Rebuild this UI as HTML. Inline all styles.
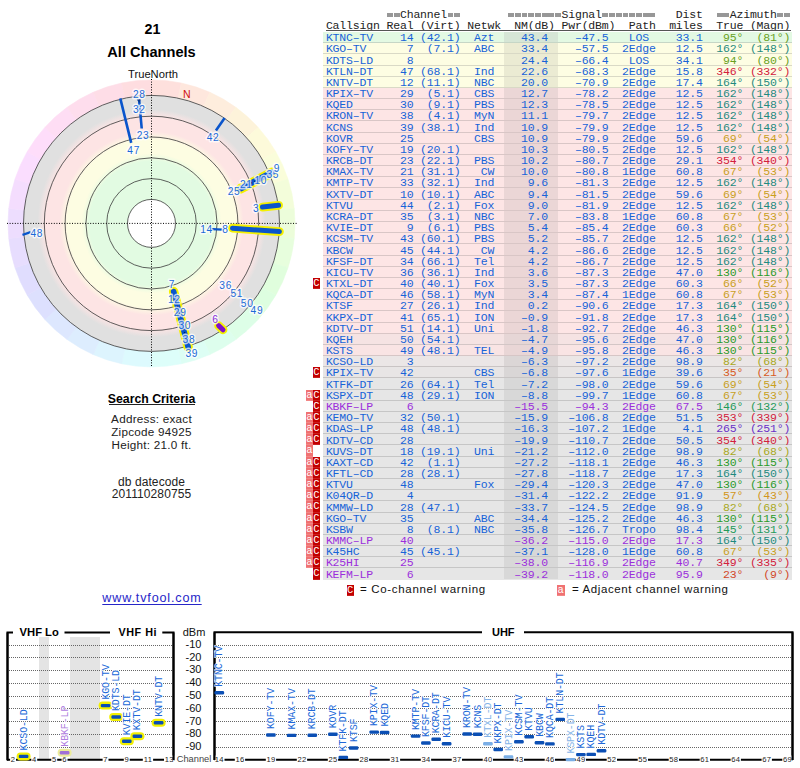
<!DOCTYPE html><html><head><meta charset="utf-8"><style>
*{margin:0;padding:0}
html,body{width:800px;height:768px;overflow:hidden;background:#fff}
body{position:relative;font-family:"Liberation Sans",sans-serif}
.t{position:absolute;white-space:pre;color:#111}
.tr{position:absolute;left:0;width:800px;height:12px;font-family:"Liberation Mono",monospace;font-size:11.5px;line-height:11.19px}
.tr i{position:absolute;top:0;font-style:normal;white-space:pre;letter-spacing:-0.17px}
.eq{position:absolute;top:13.2px;width:5.9px;height:3.7px;background:linear-gradient(#979797 0,#979797 38%,#c2c2c2 38%,#c2c2c2 62%,#979797 62%)}
.rb{position:absolute;left:323.3px;width:468.7px;height:10.19px;border-bottom:1px solid #ccc}
.nb{position:absolute;left:504px;width:54px;height:10.19px}
.wc,.wa{position:absolute;height:11.19px;width:7px;font-family:"Liberation Mono",monospace;font-size:10.5px;line-height:11.6px;text-align:center;color:#fff}
.wc{left:313px;background:#c20000;box-shadow:inset 0 -1px 0 rgba(255,255,255,0.12)}
.wa{left:306px;width:6.8px;background:#f07272;box-shadow:inset 0 -1px 0 rgba(255,255,255,0.15)}
</style></head><body><svg style="position:absolute;left:0;top:0" width="800" height="768" viewBox="0 0 800 768" font-family="Liberation Sans, sans-serif"><rect x="39" y="637" width="10" height="123" fill="#e4e4e4"/><rect x="70" y="637" width="30" height="123" fill="#e4e4e4"/><line x1="9" y1="645.5" x2="172" y2="645.5" stroke="#666" stroke-width="1" stroke-dasharray="1,1"/><line x1="216" y1="645.5" x2="791" y2="645.5" stroke="#666" stroke-width="1" stroke-dasharray="1,1"/><text x="201.5" y="647.8" text-anchor="end" font-size="11" fill="#111">-10</text><line x1="9" y1="657.5" x2="172" y2="657.5" stroke="#666" stroke-width="1" stroke-dasharray="1,1"/><line x1="216" y1="657.5" x2="791" y2="657.5" stroke="#666" stroke-width="1" stroke-dasharray="1,1"/><text x="201.5" y="660.6" text-anchor="end" font-size="11" fill="#111">-20</text><line x1="9" y1="670.5" x2="172" y2="670.5" stroke="#666" stroke-width="1" stroke-dasharray="1,1"/><line x1="216" y1="670.5" x2="791" y2="670.5" stroke="#666" stroke-width="1" stroke-dasharray="1,1"/><text x="201.5" y="673.4" text-anchor="end" font-size="11" fill="#111">-30</text><line x1="9" y1="683.5" x2="172" y2="683.5" stroke="#666" stroke-width="1" stroke-dasharray="1,1"/><line x1="216" y1="683.5" x2="791" y2="683.5" stroke="#666" stroke-width="1" stroke-dasharray="1,1"/><text x="201.5" y="686.2" text-anchor="end" font-size="11" fill="#111">-40</text><line x1="9" y1="696.5" x2="172" y2="696.5" stroke="#666" stroke-width="1" stroke-dasharray="1,1"/><line x1="216" y1="696.5" x2="791" y2="696.5" stroke="#666" stroke-width="1" stroke-dasharray="1,1"/><text x="201.5" y="699.0" text-anchor="end" font-size="11" fill="#111">-50</text><line x1="9" y1="708.5" x2="172" y2="708.5" stroke="#666" stroke-width="1" stroke-dasharray="1,1"/><line x1="216" y1="708.5" x2="791" y2="708.5" stroke="#666" stroke-width="1" stroke-dasharray="1,1"/><text x="201.5" y="711.8" text-anchor="end" font-size="11" fill="#111">-60</text><line x1="9" y1="721.5" x2="172" y2="721.5" stroke="#666" stroke-width="1" stroke-dasharray="1,1"/><line x1="216" y1="721.5" x2="791" y2="721.5" stroke="#666" stroke-width="1" stroke-dasharray="1,1"/><text x="201.5" y="724.6" text-anchor="end" font-size="11" fill="#111">-70</text><line x1="9" y1="734.5" x2="172" y2="734.5" stroke="#666" stroke-width="1" stroke-dasharray="1,1"/><line x1="216" y1="734.5" x2="791" y2="734.5" stroke="#666" stroke-width="1" stroke-dasharray="1,1"/><text x="201.5" y="737.4" text-anchor="end" font-size="11" fill="#111">-80</text><line x1="9" y1="747.5" x2="172" y2="747.5" stroke="#666" stroke-width="1" stroke-dasharray="1,1"/><line x1="216" y1="747.5" x2="791" y2="747.5" stroke="#666" stroke-width="1" stroke-dasharray="1,1"/><text x="201.5" y="750.2" text-anchor="end" font-size="11" fill="#111">-90</text><text x="194" y="636" text-anchor="middle" font-size="11" fill="#111">dBm</text><path d="M13,632.5 L7.5,632.5 L7.5,760.5" fill="none" stroke="#000" stroke-width="2"/><path d="M64.5,632.5 L110,632.5" fill="none" stroke="#000" stroke-width="2"/><path d="M162.3,632.5 L173.5,632.5 L173.5,760.5" fill="none" stroke="#000" stroke-width="2"/><text x="39.2" y="636" text-anchor="middle" font-size="11.2" font-weight="bold" fill="#000">VHF Lo</text><text x="137.8" y="636" text-anchor="middle" font-size="10.8" font-weight="bold" fill="#000" letter-spacing="0.5">VHF Hi</text><path d="M482,632.3 L214.5,632.3 L214.5,760" fill="none" stroke="#000" stroke-width="2"/><path d="M524,632.3 L792.5,632.3 L792.5,760" fill="none" stroke="#000" stroke-width="2"/><text x="503.3" y="636.2" text-anchor="middle" font-size="11" font-weight="bold" fill="#000">UHF</text><line x1="7" y1="759.8" x2="174" y2="759.8" stroke="#000" stroke-width="2"/><line x1="214" y1="759.8" x2="793" y2="759.8" stroke="#000" stroke-width="2"/><rect x="10.1" y="755.5" width="5.9" height="9" fill="#fff"/><text x="13.1" y="762" text-anchor="middle" font-size="7.6" letter-spacing="0.3" fill="#222">2</text><rect x="31.3" y="755.5" width="5.9" height="9" fill="#fff"/><text x="34.3" y="762" text-anchor="middle" font-size="7.6" letter-spacing="0.3" fill="#222">4</text><rect x="51.3" y="755.5" width="5.9" height="9" fill="#fff"/><text x="54.3" y="762" text-anchor="middle" font-size="7.6" letter-spacing="0.3" fill="#222">5</text><rect x="61.6" y="755.5" width="5.9" height="9" fill="#fff"/><text x="64.6" y="762" text-anchor="middle" font-size="7.6" letter-spacing="0.3" fill="#222">6</text><rect x="102.6" y="755.5" width="5.9" height="9" fill="#fff"/><text x="105.6" y="762" text-anchor="middle" font-size="7.6" letter-spacing="0.3" fill="#222">7</text><rect x="123.8" y="755.5" width="5.9" height="9" fill="#fff"/><text x="126.8" y="762" text-anchor="middle" font-size="7.6" letter-spacing="0.3" fill="#222">9</text><rect x="142.8" y="755.5" width="10.3" height="9" fill="#fff"/><text x="148.0" y="762" text-anchor="middle" font-size="7.6" letter-spacing="0.3" fill="#222">11</text><rect x="164.0" y="755.5" width="10.3" height="9" fill="#fff"/><text x="169.2" y="762" text-anchor="middle" font-size="7.6" letter-spacing="0.3" fill="#222">13</text><rect x="214.2" y="755.5" width="10.3" height="9" fill="#fff"/><text x="219.3" y="762" text-anchor="middle" font-size="7.6" letter-spacing="0.3" fill="#222">14</text><rect x="234.8" y="755.5" width="10.3" height="9" fill="#fff"/><text x="240.0" y="762" text-anchor="middle" font-size="7.6" letter-spacing="0.3" fill="#222">16</text><rect x="265.8" y="755.5" width="10.3" height="9" fill="#fff"/><text x="270.9" y="762" text-anchor="middle" font-size="7.6" letter-spacing="0.3" fill="#222">19</text><rect x="296.8" y="755.5" width="10.3" height="9" fill="#fff"/><text x="301.9" y="762" text-anchor="middle" font-size="7.6" letter-spacing="0.3" fill="#222">22</text><rect x="327.8" y="755.5" width="10.3" height="9" fill="#fff"/><text x="332.9" y="762" text-anchor="middle" font-size="7.6" letter-spacing="0.3" fill="#222">25</text><rect x="358.8" y="755.5" width="10.3" height="9" fill="#fff"/><text x="363.9" y="762" text-anchor="middle" font-size="7.6" letter-spacing="0.3" fill="#222">28</text><rect x="389.8" y="755.5" width="10.3" height="9" fill="#fff"/><text x="394.9" y="762" text-anchor="middle" font-size="7.6" letter-spacing="0.3" fill="#222">31</text><rect x="420.8" y="755.5" width="10.3" height="9" fill="#fff"/><text x="425.9" y="762" text-anchor="middle" font-size="7.6" letter-spacing="0.3" fill="#222">34</text><rect x="451.7" y="755.5" width="10.3" height="9" fill="#fff"/><text x="456.9" y="762" text-anchor="middle" font-size="7.6" letter-spacing="0.3" fill="#222">37</text><rect x="482.7" y="755.5" width="10.3" height="9" fill="#fff"/><text x="487.9" y="762" text-anchor="middle" font-size="7.6" letter-spacing="0.3" fill="#222">40</text><rect x="513.7" y="755.5" width="10.3" height="9" fill="#fff"/><text x="518.9" y="762" text-anchor="middle" font-size="7.6" letter-spacing="0.3" fill="#222">43</text><rect x="544.7" y="755.5" width="10.3" height="9" fill="#fff"/><text x="549.9" y="762" text-anchor="middle" font-size="7.6" letter-spacing="0.3" fill="#222">46</text><rect x="575.7" y="755.5" width="10.3" height="9" fill="#fff"/><text x="580.9" y="762" text-anchor="middle" font-size="7.6" letter-spacing="0.3" fill="#222">49</text><rect x="606.7" y="755.5" width="10.3" height="9" fill="#fff"/><text x="611.8" y="762" text-anchor="middle" font-size="7.6" letter-spacing="0.3" fill="#222">52</text><rect x="637.7" y="755.5" width="10.3" height="9" fill="#fff"/><text x="642.8" y="762" text-anchor="middle" font-size="7.6" letter-spacing="0.3" fill="#222">55</text><rect x="668.7" y="755.5" width="10.3" height="9" fill="#fff"/><text x="673.8" y="762" text-anchor="middle" font-size="7.6" letter-spacing="0.3" fill="#222">58</text><rect x="699.7" y="755.5" width="10.3" height="9" fill="#fff"/><text x="704.8" y="762" text-anchor="middle" font-size="7.6" letter-spacing="0.3" fill="#222">61</text><rect x="730.6" y="755.5" width="10.3" height="9" fill="#fff"/><text x="735.8" y="762" text-anchor="middle" font-size="7.6" letter-spacing="0.3" fill="#222">64</text><rect x="761.6" y="755.5" width="10.3" height="9" fill="#fff"/><text x="766.8" y="762" text-anchor="middle" font-size="7.6" letter-spacing="0.3" fill="#222">67</text><rect x="782.3" y="755.5" width="10.3" height="9" fill="#fff"/><text x="787.5" y="762" text-anchor="middle" font-size="7.6" letter-spacing="0.3" fill="#222">69</text><text x="194" y="761.5" text-anchor="middle" font-size="9.3" fill="#444">Channel</text><path d="M7.5,632.5 L7.5,760" fill="none" stroke="#000" stroke-width="2"/><path d="M173.5,632.5 L173.5,760" fill="none" stroke="#000" stroke-width="2"/><path d="M214.5,632.3 L214.5,760" fill="none" stroke="#000" stroke-width="2"/><path d="M792.5,632.3 L792.5,760" fill="none" stroke="#000" stroke-width="2"/><rect x="16.6" y="752.4" width="14" height="8" rx="4" fill="#f2f000"/><rect x="18.8" y="754.7" width="9.6" height="3.4" rx="1.2" fill="#0b4fb4"/><text transform="translate(26.6,750.4) rotate(-90)" font-family="Liberation Mono, monospace" font-size="10" letter-spacing="-0.15" fill="#2068d8" stroke="rgba(255,255,255,0.85)" stroke-width="1.6" style="paint-order:stroke">KCSO-LD</text><rect x="98.6" y="701.6" width="14" height="8" rx="4" fill="#f2f000"/><rect x="100.8" y="703.9" width="9.6" height="3.4" rx="1.2" fill="#0b4fb4"/><text transform="translate(108.6,699.6) rotate(-90)" font-family="Liberation Mono, monospace" font-size="10" letter-spacing="-0.15" fill="#2068d8" stroke="rgba(255,255,255,0.85)" stroke-width="1.6" style="paint-order:stroke">KGO-TV</text><rect x="109.2" y="713.0" width="14" height="8" rx="4" fill="#f2f000"/><rect x="111.4" y="715.3" width="9.6" height="3.4" rx="1.2" fill="#0b4fb4"/><text transform="translate(119.2,711.0) rotate(-90)" font-family="Liberation Mono, monospace" font-size="10" letter-spacing="-0.15" fill="#2068d8" stroke="rgba(255,255,255,0.85)" stroke-width="1.6" style="paint-order:stroke">KDTS-LD</text><rect x="119.8" y="737.3" width="14" height="8" rx="4" fill="#f2f000"/><rect x="122.0" y="739.6" width="9.6" height="3.4" rx="1.2" fill="#0b4fb4"/><text transform="translate(129.8,735.3) rotate(-90)" font-family="Liberation Mono, monospace" font-size="10" letter-spacing="-0.15" fill="#2068d8" stroke="rgba(255,255,255,0.85)" stroke-width="1.6" style="paint-order:stroke">KVIE-DT</text><rect x="130.4" y="732.3" width="14" height="8" rx="4" fill="#f2f000"/><rect x="132.6" y="734.6" width="9.6" height="3.4" rx="1.2" fill="#0b4fb4"/><text transform="translate(140.4,730.3) rotate(-90)" font-family="Liberation Mono, monospace" font-size="10" letter-spacing="-0.15" fill="#2068d8" stroke="rgba(255,255,255,0.85)" stroke-width="1.6" style="paint-order:stroke">KXTV-DT</text><rect x="151.6" y="718.8" width="14" height="8" rx="4" fill="#f2f000"/><rect x="153.8" y="721.1" width="9.6" height="3.4" rx="1.2" fill="#0b4fb4"/><text transform="translate(161.6,716.8) rotate(-90)" font-family="Liberation Mono, monospace" font-size="10" letter-spacing="-0.15" fill="#2068d8" stroke="rgba(255,255,255,0.85)" stroke-width="1.6" style="paint-order:stroke">KNTV-DT</text><rect x="57.6" y="748.7" width="14" height="8" rx="4" fill="#ecec9a"/><rect x="59.8" y="751.0" width="9.6" height="3.4" rx="1.2" fill="#a070d8"/><text transform="translate(67.6,746.7) rotate(-90)" font-family="Liberation Mono, monospace" font-size="10" letter-spacing="-0.15" fill="#b080e0" stroke="rgba(255,255,255,0.85)" stroke-width="1.6" style="paint-order:stroke">KBKF-LP</text><rect x="214.5" y="691.1" width="9.6" height="3.4" rx="1.2" fill="#0b4fb4"/><text transform="translate(222.3,686.8) rotate(-90)" font-family="Liberation Mono, monospace" font-size="10" letter-spacing="-0.15" fill="#2068d8" stroke="rgba(255,255,255,0.85)" stroke-width="1.6" style="paint-order:stroke">KTNC-TV</text><rect x="266.1" y="733.3" width="9.6" height="3.4" rx="1.2" fill="#0b4fb4"/><text transform="translate(273.9,729.0) rotate(-90)" font-family="Liberation Mono, monospace" font-size="10" letter-spacing="-0.15" fill="#2068d8" stroke="rgba(255,255,255,0.85)" stroke-width="1.6" style="paint-order:stroke">KOFY-TV</text><rect x="286.8" y="733.7" width="9.6" height="3.4" rx="1.2" fill="#0b4fb4"/><text transform="translate(294.6,729.4) rotate(-90)" font-family="Liberation Mono, monospace" font-size="10" letter-spacing="-0.15" fill="#2068d8" stroke="rgba(255,255,255,0.85)" stroke-width="1.6" style="paint-order:stroke">KMAX-TV</text><rect x="307.5" y="733.6" width="9.6" height="3.4" rx="1.2" fill="#0b4fb4"/><text transform="translate(315.3,729.3) rotate(-90)" font-family="Liberation Mono, monospace" font-size="10" letter-spacing="-0.15" fill="#2068d8" stroke="rgba(255,255,255,0.85)" stroke-width="1.6" style="paint-order:stroke">KRCB-DT</text><rect x="328.1" y="732.6" width="9.6" height="3.4" rx="1.2" fill="#0b4fb4"/><text transform="translate(335.9,728.3) rotate(-90)" font-family="Liberation Mono, monospace" font-size="10" letter-spacing="-0.15" fill="#2068d8" stroke="rgba(255,255,255,0.85)" stroke-width="1.6" style="paint-order:stroke">KOVR</text><rect x="338.5" y="755.7" width="9.6" height="3.4" rx="1.2" fill="#0b4fb4"/><text transform="translate(346.3,751.4) rotate(-90)" font-family="Liberation Mono, monospace" font-size="10" letter-spacing="-0.15" fill="#2068d8" stroke="rgba(255,255,255,0.85)" stroke-width="1.6" style="paint-order:stroke">KTFK-DT</text><rect x="348.8" y="746.3" width="9.6" height="3.4" rx="1.2" fill="#0b4fb4"/><text transform="translate(356.6,742.0) rotate(-90)" font-family="Liberation Mono, monospace" font-size="10" letter-spacing="-0.15" fill="#2068d8" stroke="rgba(255,255,255,0.85)" stroke-width="1.6" style="paint-order:stroke">KTSF</text><rect x="369.4" y="730.4" width="9.6" height="3.4" rx="1.2" fill="#0b4fb4"/><text transform="translate(377.2,726.1) rotate(-90)" font-family="Liberation Mono, monospace" font-size="10" letter-spacing="-0.15" fill="#2068d8" stroke="rgba(255,255,255,0.85)" stroke-width="1.6" style="paint-order:stroke">KPIX-TV</text><rect x="379.8" y="730.8" width="9.6" height="3.4" rx="1.2" fill="#0b4fb4"/><text transform="translate(387.6,726.5) rotate(-90)" font-family="Liberation Mono, monospace" font-size="10" letter-spacing="-0.15" fill="#2068d8" stroke="rgba(255,255,255,0.85)" stroke-width="1.6" style="paint-order:stroke">KQED</text><rect x="410.8" y="734.4" width="9.6" height="3.4" rx="1.2" fill="#0b4fb4"/><text transform="translate(418.6,730.1) rotate(-90)" font-family="Liberation Mono, monospace" font-size="10" letter-spacing="-0.15" fill="#2068d8" stroke="rgba(255,255,255,0.85)" stroke-width="1.6" style="paint-order:stroke">KMTP-TV</text><rect x="421.1" y="741.3" width="9.6" height="3.4" rx="1.2" fill="#0b4fb4"/><text transform="translate(428.9,737.0) rotate(-90)" font-family="Liberation Mono, monospace" font-size="10" letter-spacing="-0.15" fill="#2068d8" stroke="rgba(255,255,255,0.85)" stroke-width="1.6" style="paint-order:stroke">KFSF-DT</text><rect x="431.4" y="737.6" width="9.6" height="3.4" rx="1.2" fill="#0b4fb4"/><text transform="translate(439.2,733.3) rotate(-90)" font-family="Liberation Mono, monospace" font-size="10" letter-spacing="-0.15" fill="#2068d8" stroke="rgba(255,255,255,0.85)" stroke-width="1.6" style="paint-order:stroke">KCRA-DT</text><rect x="441.8" y="742.0" width="9.6" height="3.4" rx="1.2" fill="#0b4fb4"/><text transform="translate(449.6,737.7) rotate(-90)" font-family="Liberation Mono, monospace" font-size="10" letter-spacing="-0.15" fill="#2068d8" stroke="rgba(255,255,255,0.85)" stroke-width="1.6" style="paint-order:stroke">KICU-TV</text><rect x="462.4" y="732.3" width="9.6" height="3.4" rx="1.2" fill="#0b4fb4"/><text transform="translate(470.2,728.0) rotate(-90)" font-family="Liberation Mono, monospace" font-size="10" letter-spacing="-0.15" fill="#2068d8" stroke="rgba(255,255,255,0.85)" stroke-width="1.6" style="paint-order:stroke">KRON-TV</text><rect x="472.8" y="732.6" width="9.6" height="3.4" rx="1.2" fill="#0b4fb4"/><text transform="translate(480.6,728.3) rotate(-90)" font-family="Liberation Mono, monospace" font-size="10" letter-spacing="-0.15" fill="#2068d8" stroke="rgba(255,255,255,0.85)" stroke-width="1.6" style="paint-order:stroke">KCNS</text><rect x="493.4" y="747.8" width="9.6" height="3.4" rx="1.2" fill="#0b4fb4"/><text transform="translate(501.2,743.5) rotate(-90)" font-family="Liberation Mono, monospace" font-size="10" letter-spacing="-0.15" fill="#2068d8" stroke="rgba(255,255,255,0.85)" stroke-width="1.6" style="paint-order:stroke">KKPX-DT</text><rect x="514.1" y="740.0" width="9.6" height="3.4" rx="1.2" fill="#0b4fb4"/><text transform="translate(521.9,735.7) rotate(-90)" font-family="Liberation Mono, monospace" font-size="10" letter-spacing="-0.15" fill="#2068d8" stroke="rgba(255,255,255,0.85)" stroke-width="1.6" style="paint-order:stroke">KCSM-TV</text><rect x="524.4" y="735.1" width="9.6" height="3.4" rx="1.2" fill="#0b4fb4"/><text transform="translate(532.2,730.8) rotate(-90)" font-family="Liberation Mono, monospace" font-size="10" letter-spacing="-0.15" fill="#2068d8" stroke="rgba(255,255,255,0.85)" stroke-width="1.6" style="paint-order:stroke">KTVU</text><rect x="534.7" y="741.1" width="9.6" height="3.4" rx="1.2" fill="#0b4fb4"/><text transform="translate(542.5,736.8) rotate(-90)" font-family="Liberation Mono, monospace" font-size="10" letter-spacing="-0.15" fill="#2068d8" stroke="rgba(255,255,255,0.85)" stroke-width="1.6" style="paint-order:stroke">KBCW</text><rect x="545.1" y="742.2" width="9.6" height="3.4" rx="1.2" fill="#0b4fb4"/><text transform="translate(552.9,737.9) rotate(-90)" font-family="Liberation Mono, monospace" font-size="10" letter-spacing="-0.15" fill="#2068d8" stroke="rgba(255,255,255,0.85)" stroke-width="1.6" style="paint-order:stroke">KQCA-DT</text><rect x="555.4" y="717.7" width="9.6" height="3.4" rx="1.2" fill="#0b4fb4"/><text transform="translate(563.2,713.4) rotate(-90)" font-family="Liberation Mono, monospace" font-size="10" letter-spacing="-0.15" fill="#2068d8" stroke="rgba(255,255,255,0.85)" stroke-width="1.6" style="paint-order:stroke">KTLN-DT</text><rect x="576.1" y="752.9" width="9.6" height="3.4" rx="1.2" fill="#0b4fb4"/><text transform="translate(583.9,748.6) rotate(-90)" font-family="Liberation Mono, monospace" font-size="10" letter-spacing="-0.15" fill="#2068d8" stroke="rgba(255,255,255,0.85)" stroke-width="1.6" style="paint-order:stroke">KSTS</text><rect x="586.4" y="752.7" width="9.6" height="3.4" rx="1.2" fill="#0b4fb4"/><text transform="translate(594.2,748.4) rotate(-90)" font-family="Liberation Mono, monospace" font-size="10" letter-spacing="-0.15" fill="#2068d8" stroke="rgba(255,255,255,0.85)" stroke-width="1.6" style="paint-order:stroke">KQEH</text><rect x="596.7" y="749.0" width="9.6" height="3.4" rx="1.2" fill="#0b4fb4"/><text transform="translate(604.5,744.7) rotate(-90)" font-family="Liberation Mono, monospace" font-size="10" letter-spacing="-0.15" fill="#2068d8" stroke="rgba(255,255,255,0.85)" stroke-width="1.6" style="paint-order:stroke">KDTV-DT</text><rect x="483.1" y="742.0" width="9.6" height="3.4" rx="1.2" fill="#7aaee6"/><text transform="translate(490.9,737.7) rotate(-90)" font-family="Liberation Mono, monospace" font-size="10" letter-spacing="-0.15" fill="#86b4e8" stroke="rgba(255,255,255,0.85)" stroke-width="1.6" style="paint-order:stroke">KTXL-DT</text><rect x="503.7" y="755.2" width="9.6" height="3.4" rx="1.2" fill="#7aaee6"/><text transform="translate(511.5,750.9) rotate(-90)" font-family="Liberation Mono, monospace" font-size="10" letter-spacing="-0.15" fill="#86b4e8" stroke="rgba(255,255,255,0.85)" stroke-width="1.6" style="paint-order:stroke">KPIX-TV</text><rect x="565.7" y="757.9" width="9.6" height="3.4" rx="1.2" fill="#7aaee6"/><text transform="translate(573.5,753.6) rotate(-90)" font-family="Liberation Mono, monospace" font-size="10" letter-spacing="-0.15" fill="#86b4e8" stroke="rgba(255,255,255,0.85)" stroke-width="1.6" style="paint-order:stroke">KSPX-DT</text></svg><svg style="position:absolute;left:0;top:0" width="300" height="380" viewBox="0 0 300 380"><defs><radialGradient id="zg" cx="151.50" cy="223.40" r="128" gradientUnits="userSpaceOnUse"><stop offset="0.0000" stop-color="#e2fbe2"/><stop offset="0.4844" stop-color="#e2fbe2"/><stop offset="0.5469" stop-color="#fdfde2"/><stop offset="0.6562" stop-color="#fdfde2"/><stop offset="0.7188" stop-color="#fde4e4"/><stop offset="0.8281" stop-color="#fde4e4"/><stop offset="0.8906" stop-color="#e0e0e0"/><stop offset="1.0000" stop-color="#e0e0e0"/></radialGradient></defs><path d="M151.50,95.40 A128,128 0 0,1 178.11,98.20 L181.34,83.04 A143.5,143.5 0 0,0 151.50,79.90 Z" fill="hsl(6,92%,93%)" stroke="hsl(6,92%,93%)" stroke-width="0.6"/><path d="M178.11,98.20 A128,128 0 0,1 203.56,106.47 L209.87,92.31 A143.5,143.5 0 0,0 181.34,83.04 Z" fill="hsl(18,92%,93%)" stroke="hsl(18,92%,93%)" stroke-width="0.6"/><path d="M203.56,106.47 A128,128 0 0,1 226.74,119.85 L235.85,107.31 A143.5,143.5 0 0,0 209.87,92.31 Z" fill="hsl(30,92%,93%)" stroke="hsl(30,92%,93%)" stroke-width="0.6"/><path d="M226.74,119.85 A128,128 0 0,1 246.62,137.75 L258.14,127.38 A143.5,143.5 0 0,0 235.85,107.31 Z" fill="hsl(42,92%,92.5%)" stroke="hsl(42,92%,92.5%)" stroke-width="0.6"/><path d="M246.62,137.75 A128,128 0 0,1 262.35,159.40 L275.77,151.65 A143.5,143.5 0 0,0 258.14,127.38 Z" fill="hsl(54,92%,92.5%)" stroke="hsl(54,92%,92.5%)" stroke-width="0.6"/><path d="M262.35,159.40 A128,128 0 0,1 273.24,183.85 L287.98,179.06 A143.5,143.5 0 0,0 275.77,151.65 Z" fill="hsl(66,92%,92.5%)" stroke="hsl(66,92%,92.5%)" stroke-width="0.6"/><path d="M273.24,183.85 A128,128 0 0,1 278.80,210.02 L294.21,208.40 A143.5,143.5 0 0,0 287.98,179.06 Z" fill="hsl(78,92%,92.5%)" stroke="hsl(78,92%,92.5%)" stroke-width="0.6"/><path d="M278.80,210.02 A128,128 0 0,1 278.80,236.78 L294.21,238.40 A143.5,143.5 0 0,0 294.21,208.40 Z" fill="hsl(90,92%,92.5%)" stroke="hsl(90,92%,92.5%)" stroke-width="0.6"/><path d="M278.80,236.78 A128,128 0 0,1 273.24,262.95 L287.98,267.74 A143.5,143.5 0 0,0 294.21,238.40 Z" fill="hsl(102,92%,93%)" stroke="hsl(102,92%,93%)" stroke-width="0.6"/><path d="M273.24,262.95 A128,128 0 0,1 262.35,287.40 L275.77,295.15 A143.5,143.5 0 0,0 287.98,267.74 Z" fill="hsl(114,92%,93%)" stroke="hsl(114,92%,93%)" stroke-width="0.6"/><path d="M262.35,287.40 A128,128 0 0,1 246.62,309.05 L258.14,319.42 A143.5,143.5 0 0,0 275.77,295.15 Z" fill="hsl(126,92%,93%)" stroke="hsl(126,92%,93%)" stroke-width="0.6"/><path d="M246.62,309.05 A128,128 0 0,1 226.74,326.95 L235.85,339.49 A143.5,143.5 0 0,0 258.14,319.42 Z" fill="hsl(138,92%,93%)" stroke="hsl(138,92%,93%)" stroke-width="0.6"/><path d="M226.74,326.95 A128,128 0 0,1 203.56,340.33 L209.87,354.49 A143.5,143.5 0 0,0 235.85,339.49 Z" fill="hsl(150,92%,93%)" stroke="hsl(150,92%,93%)" stroke-width="0.6"/><path d="M203.56,340.33 A128,128 0 0,1 178.11,348.60 L181.34,363.76 A143.5,143.5 0 0,0 209.87,354.49 Z" fill="hsl(162,92%,93%)" stroke="hsl(162,92%,93%)" stroke-width="0.6"/><path d="M178.11,348.60 A128,128 0 0,1 151.50,351.40 L151.50,366.90 A143.5,143.5 0 0,0 181.34,363.76 Z" fill="hsl(174,92%,93%)" stroke="hsl(174,92%,93%)" stroke-width="0.6"/><path d="M151.50,351.40 A128,128 0 0,1 124.89,348.60 L121.66,363.76 A143.5,143.5 0 0,0 151.50,366.90 Z" fill="hsl(186,92%,93%)" stroke="hsl(186,92%,93%)" stroke-width="0.6"/><path d="M124.89,348.60 A128,128 0 0,1 99.44,340.33 L93.13,354.49 A143.5,143.5 0 0,0 121.66,363.76 Z" fill="hsl(198,92%,93%)" stroke="hsl(198,92%,93%)" stroke-width="0.6"/><path d="M99.44,340.33 A128,128 0 0,1 76.26,326.95 L67.15,339.49 A143.5,143.5 0 0,0 93.13,354.49 Z" fill="hsl(210,92%,93%)" stroke="hsl(210,92%,93%)" stroke-width="0.6"/><path d="M76.26,326.95 A128,128 0 0,1 56.38,309.05 L44.86,319.42 A143.5,143.5 0 0,0 67.15,339.49 Z" fill="hsl(222,92%,93%)" stroke="hsl(222,92%,93%)" stroke-width="0.6"/><path d="M56.38,309.05 A128,128 0 0,1 40.65,287.40 L27.23,295.15 A143.5,143.5 0 0,0 44.86,319.42 Z" fill="hsl(234,92%,93%)" stroke="hsl(234,92%,93%)" stroke-width="0.6"/><path d="M40.65,287.40 A128,128 0 0,1 29.76,262.95 L15.02,267.74 A143.5,143.5 0 0,0 27.23,295.15 Z" fill="hsl(246,92%,93%)" stroke="hsl(246,92%,93%)" stroke-width="0.6"/><path d="M29.76,262.95 A128,128 0 0,1 24.20,236.78 L8.79,238.40 A143.5,143.5 0 0,0 15.02,267.74 Z" fill="hsl(258,92%,93%)" stroke="hsl(258,92%,93%)" stroke-width="0.6"/><path d="M24.20,236.78 A128,128 0 0,1 24.20,210.02 L8.79,208.40 A143.5,143.5 0 0,0 8.79,238.40 Z" fill="hsl(270,92%,93%)" stroke="hsl(270,92%,93%)" stroke-width="0.6"/><path d="M24.20,210.02 A128,128 0 0,1 29.76,183.85 L15.02,179.06 A143.5,143.5 0 0,0 8.79,208.40 Z" fill="hsl(282,92%,93%)" stroke="hsl(282,92%,93%)" stroke-width="0.6"/><path d="M29.76,183.85 A128,128 0 0,1 40.65,159.40 L27.23,151.65 A143.5,143.5 0 0,0 15.02,179.06 Z" fill="hsl(294,92%,93%)" stroke="hsl(294,92%,93%)" stroke-width="0.6"/><path d="M40.65,159.40 A128,128 0 0,1 56.38,137.75 L44.86,127.38 A143.5,143.5 0 0,0 27.23,151.65 Z" fill="hsl(306,92%,93%)" stroke="hsl(306,92%,93%)" stroke-width="0.6"/><path d="M56.38,137.75 A128,128 0 0,1 76.26,119.85 L67.15,107.31 A143.5,143.5 0 0,0 44.86,127.38 Z" fill="hsl(318,92%,93%)" stroke="hsl(318,92%,93%)" stroke-width="0.6"/><path d="M76.26,119.85 A128,128 0 0,1 99.44,106.47 L93.13,92.31 A143.5,143.5 0 0,0 67.15,107.31 Z" fill="hsl(330,92%,93%)" stroke="hsl(330,92%,93%)" stroke-width="0.6"/><path d="M99.44,106.47 A128,128 0 0,1 124.89,98.20 L121.66,83.04 A143.5,143.5 0 0,0 93.13,92.31 Z" fill="hsl(342,92%,93%)" stroke="hsl(342,92%,93%)" stroke-width="0.6"/><path d="M124.89,98.20 A128,128 0 0,1 151.50,95.40 L151.50,79.90 A143.5,143.5 0 0,0 121.66,83.04 Z" fill="hsl(354,92%,93%)" stroke="hsl(354,92%,93%)" stroke-width="0.6"/><circle cx="151.5" cy="223.4" r="128" fill="url(#zg)"/><circle cx="151.5" cy="223.4" r="24" fill="#fff"/><circle cx="151.5" cy="223.4" r="24" fill="none" stroke="#383838" stroke-width="0.8"/><circle cx="151.5" cy="223.4" r="44.8" fill="none" stroke="#383838" stroke-width="0.8"/><circle cx="151.5" cy="223.4" r="65.6" fill="none" stroke="#383838" stroke-width="0.8"/><circle cx="151.5" cy="223.4" r="86.4" fill="none" stroke="#383838" stroke-width="0.8"/><circle cx="151.5" cy="223.4" r="107.2" fill="none" stroke="#383838" stroke-width="0.8"/><circle cx="151.5" cy="223.4" r="128" fill="none" stroke="#383838" stroke-width="0.8"/><line x1="7" y1="223.4" x2="297" y2="223.4" stroke="#000" stroke-width="1" stroke-dasharray="1,1.6"/><line x1="151.5" y1="79" x2="151.5" y2="367" stroke="#000" stroke-width="1" stroke-dasharray="1,1.6"/><line x1="120.6" y1="99.6" x2="130.9" y2="141.6" stroke="#0a55cc" stroke-width="2.6" stroke-linecap="square"/><line x1="139.2" y1="100.8" x2="141.6" y2="127.2" stroke="#0a55cc" stroke-width="2.6" stroke-linecap="square"/><path d="M136.6,99.2 L140.6,99.6 L139.6,103.2 Z" fill="#0a3a90"/><line x1="223.9" y1="119.0" x2="216.7" y2="129.4" stroke="#0a55cc" stroke-width="2.6" stroke-linecap="square"/><line x1="23.5" y1="234.5" x2="29.5" y2="232.5" stroke="#0a55cc" stroke-width="2.2" stroke-linecap="square"/><line x1="212.9" y1="229.2" x2="221.25" y2="229.6" stroke="#0a55cc" stroke-width="2.4" stroke-linecap="square"/><line x1="232.5" y1="228.2" x2="279.4" y2="231.6" stroke="#f4f000" stroke-width="8.8" stroke-linecap="round"/><line x1="232.5" y1="228.2" x2="279.4" y2="231.6" stroke="#0a55cc" stroke-width="5" stroke-linecap="round"/><line x1="262.5" y1="207.1" x2="278.6" y2="205.3" stroke="#f4f000" stroke-width="8.8" stroke-linecap="round"/><line x1="262.5" y1="207.1" x2="278.6" y2="205.3" stroke="#0a55cc" stroke-width="5" stroke-linecap="round"/><line x1="240.6" y1="188.6" x2="272" y2="172.4" stroke="#f4f000" stroke-width="9.8" stroke-linecap="round"/><line x1="240.6" y1="188.6" x2="272" y2="172.4" stroke="#0a55cc" stroke-width="6" stroke-linecap="round"/><line x1="173.6" y1="291.5" x2="188.2" y2="347.2" stroke="#f4f000" stroke-width="9.399999999999999" stroke-linecap="round"/><line x1="173.6" y1="291.5" x2="188.2" y2="347.2" stroke="#0a55cc" stroke-width="5.6" stroke-linecap="round"/><line x1="218.6" y1="325.6" x2="223.0" y2="329.8" stroke="#f4f000" stroke-width="8.8" stroke-linecap="round"/><line x1="218.6" y1="325.6" x2="223.0" y2="329.8" stroke="#7f12c8" stroke-width="5" stroke-linecap="round"/><line x1="174.5" y1="296" x2="188" y2="345" stroke="#001a60" stroke-width="1.4" stroke-dasharray="1.2,2.2"/><line x1="248" y1="184.5" x2="270" y2="174" stroke="#001a60" stroke-width="1.4" stroke-dasharray="1.2,2.2"/><line x1="229" y1="288" x2="252" y2="307" stroke="#223" stroke-width="0.9" stroke-dasharray="1,2"/><g font-family="Liberation Sans, sans-serif" font-size="10.2"><text x="139.35" y="98.30" fill="#1c6ad8" text-anchor="middle" letter-spacing="0.7" style="paint-order:stroke" stroke="rgba(255,255,255,0.72)" stroke-width="2.8" stroke-linejoin="round">28</text><text x="139.35" y="112.90" fill="#1c6ad8" text-anchor="middle" letter-spacing="0.7" style="paint-order:stroke" stroke="rgba(255,255,255,0.72)" stroke-width="2.8" stroke-linejoin="round">32</text><text x="143.05" y="138.90" fill="#1c6ad8" text-anchor="middle" letter-spacing="0.7" style="paint-order:stroke" stroke="rgba(255,255,255,0.72)" stroke-width="2.8" stroke-linejoin="round">23</text><text x="133.65" y="154.00" fill="#1c6ad8" text-anchor="middle" letter-spacing="0.7" style="paint-order:stroke" stroke="rgba(255,255,255,0.72)" stroke-width="2.8" stroke-linejoin="round">47</text><text x="213.05" y="140.70" fill="#1c6ad8" text-anchor="middle" letter-spacing="0.7" style="paint-order:stroke" stroke="rgba(255,255,255,0.72)" stroke-width="2.8" stroke-linejoin="round">42</text><text x="36.85" y="237.20" fill="#1c6ad8" text-anchor="middle" letter-spacing="0.7" style="paint-order:stroke" stroke="rgba(255,255,255,0.72)" stroke-width="2.8" stroke-linejoin="round">48</text><text x="206.60" y="232.60" fill="#1c6ad8" text-anchor="middle" letter-spacing="0.7" style="paint-order:stroke" stroke="rgba(255,255,255,0.72)" stroke-width="2.8" stroke-linejoin="round">14</text><text x="225.55" y="232.70" fill="#1c6ad8" text-anchor="middle" letter-spacing="0.7" style="paint-order:stroke" stroke="rgba(255,255,255,0.72)" stroke-width="2.8" stroke-linejoin="round">8</text><text x="256.25" y="211.80" fill="#1c6ad8" text-anchor="middle" letter-spacing="0.7" style="paint-order:stroke" stroke="rgba(255,255,255,0.72)" stroke-width="2.8" stroke-linejoin="round">3</text><text x="234.10" y="195.20" fill="#1c6ad8" text-anchor="middle" letter-spacing="0.7" style="paint-order:stroke" stroke="rgba(255,255,255,0.72)" stroke-width="2.8" stroke-linejoin="round">25</text><text x="246.35" y="187.70" fill="#1c6ad8" text-anchor="middle" letter-spacing="0.7" style="paint-order:stroke" stroke="rgba(255,255,255,0.72)" stroke-width="2.8" stroke-linejoin="round">21</text><text x="260.75" y="183.60" fill="#1c6ad8" text-anchor="middle" letter-spacing="0.7" style="paint-order:stroke" stroke="rgba(255,255,255,0.72)" stroke-width="2.8" stroke-linejoin="round">10</text><text x="272.85" y="177.50" fill="#1c6ad8" text-anchor="middle" letter-spacing="0.7" style="paint-order:stroke" stroke="rgba(255,255,255,0.72)" stroke-width="2.8" stroke-linejoin="round">35</text><text x="276.85" y="172.20" fill="#1c6ad8" text-anchor="middle" letter-spacing="0.7" style="paint-order:stroke" stroke="rgba(255,255,255,0.72)" stroke-width="2.8" stroke-linejoin="round">9</text><text x="171.85" y="288.30" fill="#1c6ad8" text-anchor="middle" letter-spacing="0.7" style="paint-order:stroke" stroke="rgba(255,255,255,0.72)" stroke-width="2.8" stroke-linejoin="round">7</text><text x="174.35" y="302.90" fill="#1c6ad8" text-anchor="middle" letter-spacing="0.7" style="paint-order:stroke" stroke="rgba(255,255,255,0.72)" stroke-width="2.8" stroke-linejoin="round">12</text><text x="180.15" y="315.90" fill="#1c6ad8" text-anchor="middle" letter-spacing="0.7" style="paint-order:stroke" stroke="rgba(255,255,255,0.72)" stroke-width="2.8" stroke-linejoin="round">29</text><text x="184.85" y="329.40" fill="#1c6ad8" text-anchor="middle" letter-spacing="0.7" style="paint-order:stroke" stroke="rgba(255,255,255,0.72)" stroke-width="2.8" stroke-linejoin="round">30</text><text x="188.95" y="343.00" fill="#1c6ad8" text-anchor="middle" letter-spacing="0.7" style="paint-order:stroke" stroke="rgba(255,255,255,0.72)" stroke-width="2.8" stroke-linejoin="round">38</text><text x="191.85" y="356.70" fill="#1c6ad8" text-anchor="middle" letter-spacing="0.7" style="paint-order:stroke" stroke="rgba(255,255,255,0.72)" stroke-width="2.8" stroke-linejoin="round">39</text><text x="225.65" y="288.90" fill="#1c6ad8" text-anchor="middle" letter-spacing="0.7" style="paint-order:stroke" stroke="rgba(255,255,255,0.72)" stroke-width="2.8" stroke-linejoin="round">36</text><text x="236.75" y="296.70" fill="#1c6ad8" text-anchor="middle" letter-spacing="0.7" style="paint-order:stroke" stroke="rgba(255,255,255,0.72)" stroke-width="2.8" stroke-linejoin="round">51</text><text x="247.15" y="307.10" fill="#1c6ad8" text-anchor="middle" letter-spacing="0.7" style="paint-order:stroke" stroke="rgba(255,255,255,0.72)" stroke-width="2.8" stroke-linejoin="round">50</text><text x="256.95" y="313.70" fill="#1c6ad8" text-anchor="middle" letter-spacing="0.7" style="paint-order:stroke" stroke="rgba(255,255,255,0.72)" stroke-width="2.8" stroke-linejoin="round">49</text><text x="215.35" y="322.70" fill="#8a2ad8" text-anchor="middle" letter-spacing="0.7" style="paint-order:stroke" stroke="rgba(255,255,255,0.72)" stroke-width="2.8" stroke-linejoin="round">6</text><text x="186.9" y="98.3" fill="#d01010" text-anchor="middle" font-size="10.5">N</text></g></svg><div class="t" style="left:0;width:305px;text-align:center;top:21px;font-size:14.3px;font-weight:bold;color:#000">21</div><div class="t" style="left:0;width:303px;text-align:center;top:43.5px;font-size:14.6px;font-weight:bold;color:#000">All Channels</div><div class="t" style="left:0;width:306px;text-align:center;top:67.5px;font-size:11.2px;color:#111">TrueNorth</div><div class="t" style="left:0;width:303px;text-align:center;top:391.5px;font-size:12.3px;font-weight:bold;color:#000">Search Criteria</div><div style="position:absolute;left:108.5px;top:404.2px;width:86.5px;height:1.3px;background:#222"></div><div class="t" style="left:0;width:303px;text-align:center;top:413.45px;font-size:11.7px;letter-spacing:0.25px;line-height:12.6px;color:#222">Address: exact
Zipcode 94925
Height: 21.0 ft.</div><div class="t" style="left:0;width:303px;text-align:center;top:475.6px;font-size:12px;letter-spacing:0.1px;line-height:12px;color:#222">db datecode
201110280755</div><div class="t" style="left:0;width:304px;text-align:center;top:591px;font-size:12.6px;letter-spacing:0.85px;color:#2626c8;text-decoration:underline;text-underline-offset:1.5px">www.tvfool.com</div><div class="eq" style="left:386.97px"></div><div class="eq" style="left:393.70px"></div><div class="eq" style="left:447.54px"></div><div class="eq" style="left:454.27px"></div><div class="eq" style="left:508.11px"></div><div class="eq" style="left:514.84px"></div><div class="eq" style="left:521.57px"></div><div class="eq" style="left:528.30px"></div><div class="eq" style="left:535.03px"></div><div class="eq" style="left:541.76px"></div><div class="eq" style="left:548.49px"></div><div class="eq" style="left:555.22px"></div><div class="eq" style="left:602.33px"></div><div class="eq" style="left:609.06px"></div><div class="eq" style="left:615.79px"></div><div class="eq" style="left:622.52px"></div><div class="eq" style="left:629.25px"></div><div class="eq" style="left:635.98px"></div><div class="eq" style="left:642.71px"></div><div class="eq" style="left:649.44px"></div><div class="eq" style="left:716.74px"></div><div class="eq" style="left:723.47px"></div><div class="eq" style="left:777.31px"></div><div class="eq" style="left:784.04px"></div><div class="tr" style="top:8.8px"><i style="left:399.93px;color:#222">Channel</i><i style="left:561.45px;color:#222">Signal</i><i style="left:675.86px;color:#222">Dist</i><i style="left:729.70px;color:#222">Azimuth</i></div><div class="tr" style="top:20px"><i style="left:325.90px;color:#222">Callsign</i><i style="left:386.47px;color:#222">Real</i><i style="left:420.12px;color:#222">(Virt)</i><i style="left:467.23px;color:#222">Netwk</i><i style="left:514.34px;color:#222">NM(dB)</i><i style="left:561.45px;color:#222">Pwr(dBm)</i><i style="left:628.75px;color:#222">Path</i><i style="left:669.13px;color:#222">miles</i><i style="left:716.24px;color:#222">True</i><i style="left:749.89px;color:#222">(Magn)</i></div><div style="position:absolute;left:326px;top:30px;width:465px;height:1px;background:#555"></div><div class="rb" style="top:32.00px;background:#e3f9e3;border-bottom-color:#c6d6c6"></div><div class="nb" style="top:32.00px;background:#d6e6d6"></div><div class="tr" style="top:32.20px;color:#1763d8"><i style="left:325.90px">KTNC–TV</i><i style="left:399.93px">14</i><i style="left:420.12px">(42.1)</i><i style="left:473.96px">Azt</i><i style="left:521.07px">43.4</i><i style="left:574.91px">–47.5</i><i style="left:628.75px">LOS</i><i style="left:675.86px">33.1</i><i style="left:722.97px;color:#69a01e">95°</i><i style="left:756.62px;color:#69a01e">(81°)</i></div><div class="rb" style="top:43.17px;background:#fdfde3;border-bottom-color:#d9d9c6"></div><div class="nb" style="top:43.17px;background:#ebebd3"></div><div class="tr" style="top:43.38px;color:#1763d8"><i style="left:325.90px">KGO–TV</i><i style="left:406.66px">7</i><i style="left:426.85px">(7.1)</i><i style="left:473.96px">ABC</i><i style="left:521.07px">33.4</i><i style="left:574.91px">–57.5</i><i style="left:622.02px">2Edge</i><i style="left:675.86px">12.5</i><i style="left:716.24px;color:#1f8a80">162°</i><i style="left:749.89px;color:#1f8a80">(148°)</i></div><div class="rb" style="top:54.35px;background:#fdfde3;border-bottom-color:#d9d9c6"></div><div class="nb" style="top:54.35px;background:#ebebd3"></div><div class="tr" style="top:54.55px;color:#1763d8"><i style="left:325.90px">KDTS–LD</i><i style="left:406.66px">8</i><i style="left:521.07px">24.4</i><i style="left:574.91px">–66.4</i><i style="left:628.75px">LOS</i><i style="left:675.86px">34.1</i><i style="left:722.97px;color:#69a01e">94°</i><i style="left:756.62px;color:#69a01e">(80°)</i></div><div class="rb" style="top:65.53px;background:#fdfde3;border-bottom-color:#d9d9c6"></div><div class="nb" style="top:65.53px;background:#ebebd3"></div><div class="tr" style="top:65.73px;color:#1763d8"><i style="left:325.90px">KTLN–DT</i><i style="left:399.93px">47</i><i style="left:420.12px">(68.1)</i><i style="left:473.96px">Ind</i><i style="left:521.07px">22.6</i><i style="left:574.91px">–68.3</i><i style="left:622.02px">2Edge</i><i style="left:675.86px">15.8</i><i style="left:716.24px;color:#d2203c">346°</i><i style="left:749.89px;color:#d2203c">(332°)</i></div><div class="rb" style="top:76.70px;background:#fdfde3;border-bottom-color:#d9d9c6"></div><div class="nb" style="top:76.70px;background:#ebebd3"></div><div class="tr" style="top:76.90px;color:#1763d8"><i style="left:325.90px">KNTV–DT</i><i style="left:399.93px">12</i><i style="left:420.12px">(11.1)</i><i style="left:473.96px">NBC</i><i style="left:521.07px">20.0</i><i style="left:574.91px">–70.9</i><i style="left:622.02px">2Edge</i><i style="left:675.86px">17.4</i><i style="left:716.24px;color:#1f8a80">164°</i><i style="left:749.89px;color:#1f8a80">(150°)</i></div><div class="rb" style="top:87.88px;background:#fde5e5;border-bottom-color:#d9c6c6"></div><div class="nb" style="top:87.88px;background:#ebd6d6"></div><div class="tr" style="top:88.08px;color:#1763d8"><i style="left:325.90px">KPIX–TV</i><i style="left:399.93px">29</i><i style="left:426.85px">(5.1)</i><i style="left:473.96px">CBS</i><i style="left:521.07px">12.7</i><i style="left:574.91px">–78.2</i><i style="left:622.02px">2Edge</i><i style="left:675.86px">12.5</i><i style="left:716.24px;color:#1f8a80">162°</i><i style="left:749.89px;color:#1f8a80">(148°)</i></div><div class="rb" style="top:99.05px;background:#fde5e5;border-bottom-color:#d9c6c6"></div><div class="nb" style="top:99.05px;background:#ebd6d6"></div><div class="tr" style="top:99.25px;color:#1763d8"><i style="left:325.90px">KQED</i><i style="left:399.93px">30</i><i style="left:426.85px">(9.1)</i><i style="left:473.96px">PBS</i><i style="left:521.07px">12.3</i><i style="left:574.91px">–78.5</i><i style="left:622.02px">2Edge</i><i style="left:675.86px">12.5</i><i style="left:716.24px;color:#1f8a80">162°</i><i style="left:749.89px;color:#1f8a80">(148°)</i></div><div class="rb" style="top:110.23px;background:#fde5e5;border-bottom-color:#d9c6c6"></div><div class="nb" style="top:110.23px;background:#ebd6d6"></div><div class="tr" style="top:110.43px;color:#1763d8"><i style="left:325.90px">KRON–TV</i><i style="left:399.93px">38</i><i style="left:426.85px">(4.1)</i><i style="left:473.96px">MyN</i><i style="left:521.07px">11.1</i><i style="left:574.91px">–79.7</i><i style="left:622.02px">2Edge</i><i style="left:675.86px">12.5</i><i style="left:716.24px;color:#1f8a80">162°</i><i style="left:749.89px;color:#1f8a80">(148°)</i></div><div class="rb" style="top:121.40px;background:#fde5e5;border-bottom-color:#d9c6c6"></div><div class="nb" style="top:121.40px;background:#ebd6d6"></div><div class="tr" style="top:121.60px;color:#1763d8"><i style="left:325.90px">KCNS</i><i style="left:399.93px">39</i><i style="left:420.12px">(38.1)</i><i style="left:473.96px">Ind</i><i style="left:521.07px">10.9</i><i style="left:574.91px">–79.9</i><i style="left:622.02px">2Edge</i><i style="left:675.86px">12.5</i><i style="left:716.24px;color:#1f8a80">162°</i><i style="left:749.89px;color:#1f8a80">(148°)</i></div><div class="rb" style="top:132.57px;background:#fde5e5;border-bottom-color:#d9c6c6"></div><div class="nb" style="top:132.57px;background:#ebd6d6"></div><div class="tr" style="top:132.77px;color:#1763d8"><i style="left:325.90px">KOVR</i><i style="left:399.93px">25</i><i style="left:473.96px">CBS</i><i style="left:521.07px">10.9</i><i style="left:574.91px">–79.9</i><i style="left:622.02px">2Edge</i><i style="left:675.86px">59.6</i><i style="left:722.97px;color:#c8a01e">69°</i><i style="left:756.62px;color:#c8a01e">(54°)</i></div><div class="rb" style="top:143.75px;background:#fde5e5;border-bottom-color:#d9c6c6"></div><div class="nb" style="top:143.75px;background:#ebd6d6"></div><div class="tr" style="top:143.95px;color:#1763d8"><i style="left:325.90px">KOFY–TV</i><i style="left:399.93px">19</i><i style="left:420.12px">(20.1)</i><i style="left:521.07px">10.3</i><i style="left:574.91px">–80.5</i><i style="left:622.02px">2Edge</i><i style="left:675.86px">12.5</i><i style="left:716.24px;color:#1f8a80">162°</i><i style="left:749.89px;color:#1f8a80">(148°)</i></div><div class="rb" style="top:154.93px;background:#fde5e5;border-bottom-color:#d9c6c6"></div><div class="nb" style="top:154.93px;background:#ebd6d6"></div><div class="tr" style="top:155.12px;color:#1763d8"><i style="left:325.90px">KRCB–DT</i><i style="left:399.93px">23</i><i style="left:420.12px">(22.1)</i><i style="left:473.96px">PBS</i><i style="left:521.07px">10.2</i><i style="left:574.91px">–80.7</i><i style="left:622.02px">2Edge</i><i style="left:675.86px">29.1</i><i style="left:716.24px;color:#d2203c">354°</i><i style="left:749.89px;color:#d2203c">(340°)</i></div><div class="rb" style="top:166.10px;background:#fde5e5;border-bottom-color:#d9c6c6"></div><div class="nb" style="top:166.10px;background:#ebd6d6"></div><div class="tr" style="top:166.30px;color:#1763d8"><i style="left:325.90px">KMAX–TV</i><i style="left:399.93px">21</i><i style="left:420.12px">(31.1)</i><i style="left:480.69px">CW</i><i style="left:521.07px">10.0</i><i style="left:574.91px">–80.8</i><i style="left:622.02px">1Edge</i><i style="left:675.86px">60.8</i><i style="left:722.97px;color:#c8a01e">67°</i><i style="left:756.62px;color:#c8a01e">(53°)</i></div><div class="rb" style="top:177.28px;background:#fde5e5;border-bottom-color:#d9c6c6"></div><div class="nb" style="top:177.28px;background:#ebd6d6"></div><div class="tr" style="top:177.47px;color:#1763d8"><i style="left:325.90px">KMTP–TV</i><i style="left:399.93px">33</i><i style="left:420.12px">(32.1)</i><i style="left:473.96px">Ind</i><i style="left:527.80px">9.6</i><i style="left:574.91px">–81.3</i><i style="left:622.02px">2Edge</i><i style="left:675.86px">12.5</i><i style="left:716.24px;color:#1f8a80">162°</i><i style="left:749.89px;color:#1f8a80">(148°)</i></div><div class="rb" style="top:188.45px;background:#fde5e5;border-bottom-color:#d9c6c6"></div><div class="nb" style="top:188.45px;background:#ebd6d6"></div><div class="tr" style="top:188.65px;color:#1763d8"><i style="left:325.90px">KXTV–DT</i><i style="left:399.93px">10</i><i style="left:420.12px">(10.1)</i><i style="left:473.96px">ABC</i><i style="left:527.80px">9.4</i><i style="left:574.91px">–81.5</i><i style="left:622.02px">2Edge</i><i style="left:675.86px">59.6</i><i style="left:722.97px;color:#c8a01e">69°</i><i style="left:756.62px;color:#c8a01e">(54°)</i></div><div class="rb" style="top:199.62px;background:#fde5e5;border-bottom-color:#d9c6c6"></div><div class="nb" style="top:199.62px;background:#ebd6d6"></div><div class="tr" style="top:199.82px;color:#1763d8"><i style="left:325.90px">KTVU</i><i style="left:399.93px">44</i><i style="left:426.85px">(2.1)</i><i style="left:473.96px">Fox</i><i style="left:527.80px">9.0</i><i style="left:574.91px">–81.9</i><i style="left:622.02px">2Edge</i><i style="left:675.86px">12.5</i><i style="left:716.24px;color:#1f8a80">162°</i><i style="left:749.89px;color:#1f8a80">(148°)</i></div><div class="rb" style="top:210.80px;background:#fde5e5;border-bottom-color:#d9c6c6"></div><div class="nb" style="top:210.80px;background:#ebd6d6"></div><div class="tr" style="top:211.00px;color:#1763d8"><i style="left:325.90px">KCRA–DT</i><i style="left:399.93px">35</i><i style="left:426.85px">(3.1)</i><i style="left:473.96px">NBC</i><i style="left:527.80px">7.0</i><i style="left:574.91px">–83.8</i><i style="left:622.02px">1Edge</i><i style="left:675.86px">60.8</i><i style="left:722.97px;color:#c8a01e">67°</i><i style="left:756.62px;color:#c8a01e">(53°)</i></div><div class="rb" style="top:221.98px;background:#fde5e5;border-bottom-color:#d9c6c6"></div><div class="nb" style="top:221.98px;background:#ebd6d6"></div><div class="tr" style="top:222.18px;color:#1763d8"><i style="left:325.90px">KVIE–DT</i><i style="left:406.66px">9</i><i style="left:426.85px">(6.1)</i><i style="left:473.96px">PBS</i><i style="left:527.80px">5.4</i><i style="left:574.91px">–85.4</i><i style="left:622.02px">2Edge</i><i style="left:675.86px">60.3</i><i style="left:722.97px;color:#c8a01e">66°</i><i style="left:756.62px;color:#c8a01e">(52°)</i></div><div class="rb" style="top:233.15px;background:#fde5e5;border-bottom-color:#d9c6c6"></div><div class="nb" style="top:233.15px;background:#ebd6d6"></div><div class="tr" style="top:233.35px;color:#1763d8"><i style="left:325.90px">KCSM–TV</i><i style="left:399.93px">43</i><i style="left:420.12px">(60.1)</i><i style="left:473.96px">PBS</i><i style="left:527.80px">5.2</i><i style="left:574.91px">–85.7</i><i style="left:622.02px">2Edge</i><i style="left:675.86px">12.5</i><i style="left:716.24px;color:#1f8a80">162°</i><i style="left:749.89px;color:#1f8a80">(148°)</i></div><div class="rb" style="top:244.33px;background:#fde5e5;border-bottom-color:#d9c6c6"></div><div class="nb" style="top:244.33px;background:#ebd6d6"></div><div class="tr" style="top:244.53px;color:#1763d8"><i style="left:325.90px">KBCW</i><i style="left:399.93px">45</i><i style="left:420.12px">(44.1)</i><i style="left:480.69px">CW</i><i style="left:527.80px">4.2</i><i style="left:574.91px">–86.6</i><i style="left:622.02px">2Edge</i><i style="left:675.86px">12.5</i><i style="left:716.24px;color:#1f8a80">162°</i><i style="left:749.89px;color:#1f8a80">(148°)</i></div><div class="rb" style="top:255.50px;background:#fde5e5;border-bottom-color:#d9c6c6"></div><div class="nb" style="top:255.50px;background:#ebd6d6"></div><div class="tr" style="top:255.70px;color:#1763d8"><i style="left:325.90px">KFSF–DT</i><i style="left:399.93px">34</i><i style="left:420.12px">(66.1)</i><i style="left:473.96px">Tel</i><i style="left:527.80px">4.2</i><i style="left:574.91px">–86.7</i><i style="left:622.02px">2Edge</i><i style="left:675.86px">12.5</i><i style="left:716.24px;color:#1f8a80">162°</i><i style="left:749.89px;color:#1f8a80">(148°)</i></div><div class="rb" style="top:266.68px;background:#fde5e5;border-bottom-color:#d9c6c6"></div><div class="nb" style="top:266.68px;background:#ebd6d6"></div><div class="tr" style="top:266.88px;color:#1763d8"><i style="left:325.90px">KICU–TV</i><i style="left:399.93px">36</i><i style="left:420.12px">(36.1)</i><i style="left:473.96px">Ind</i><i style="left:527.80px">3.6</i><i style="left:574.91px">–87.3</i><i style="left:622.02px">2Edge</i><i style="left:675.86px">47.0</i><i style="left:716.24px;color:#2a9a2a">130°</i><i style="left:749.89px;color:#2a9a2a">(116°)</i></div><div class="rb" style="top:277.85px;background:#fde5e5;border-bottom-color:#d9c6c6"></div><div class="nb" style="top:277.85px;background:#ebd6d6"></div><div class="tr" style="top:278.05px;color:#1763d8"><i style="left:325.90px">KTXL–DT</i><i style="left:399.93px">40</i><i style="left:420.12px">(40.1)</i><i style="left:473.96px">Fox</i><i style="left:527.80px">3.5</i><i style="left:574.91px">–87.3</i><i style="left:622.02px">2Edge</i><i style="left:675.86px">60.3</i><i style="left:722.97px;color:#c8a01e">66°</i><i style="left:756.62px;color:#c8a01e">(52°)</i></div><div class="wc" style="top:277.85px">C</div><div class="rb" style="top:289.03px;background:#fde5e5;border-bottom-color:#d9c6c6"></div><div class="nb" style="top:289.03px;background:#ebd6d6"></div><div class="tr" style="top:289.23px;color:#1763d8"><i style="left:325.90px">KQCA–DT</i><i style="left:399.93px">46</i><i style="left:420.12px">(58.1)</i><i style="left:473.96px">MyN</i><i style="left:527.80px">3.4</i><i style="left:574.91px">–87.4</i><i style="left:622.02px">1Edge</i><i style="left:675.86px">60.8</i><i style="left:722.97px;color:#c8a01e">67°</i><i style="left:756.62px;color:#c8a01e">(53°)</i></div><div class="rb" style="top:300.20px;background:#fde5e5;border-bottom-color:#d9c6c6"></div><div class="nb" style="top:300.20px;background:#ebd6d6"></div><div class="tr" style="top:300.40px;color:#1763d8"><i style="left:325.90px">KTSF</i><i style="left:399.93px">27</i><i style="left:420.12px">(26.1)</i><i style="left:473.96px">Ind</i><i style="left:527.80px">0.2</i><i style="left:574.91px">–90.6</i><i style="left:622.02px">2Edge</i><i style="left:675.86px">17.3</i><i style="left:716.24px;color:#1f8a80">164°</i><i style="left:749.89px;color:#1f8a80">(150°)</i></div><div class="rb" style="top:311.38px;background:#fde5e5;border-bottom-color:#d9c6c6"></div><div class="nb" style="top:311.38px;background:#ebd6d6"></div><div class="tr" style="top:311.57px;color:#1763d8"><i style="left:325.90px">KKPX–DT</i><i style="left:399.93px">41</i><i style="left:420.12px">(65.1)</i><i style="left:473.96px">ION</i><i style="left:521.07px">–0.9</i><i style="left:574.91px">–91.8</i><i style="left:622.02px">2Edge</i><i style="left:675.86px">17.3</i><i style="left:716.24px;color:#1f8a80">164°</i><i style="left:749.89px;color:#1f8a80">(150°)</i></div><div class="rb" style="top:322.55px;background:#fde5e5;border-bottom-color:#d9c6c6"></div><div class="nb" style="top:322.55px;background:#ebd6d6"></div><div class="tr" style="top:322.75px;color:#1763d8"><i style="left:325.90px">KDTV–DT</i><i style="left:399.93px">51</i><i style="left:420.12px">(14.1)</i><i style="left:473.96px">Uni</i><i style="left:521.07px">–1.8</i><i style="left:574.91px">–92.7</i><i style="left:622.02px">2Edge</i><i style="left:675.86px">46.3</i><i style="left:716.24px;color:#2a9a2a">130°</i><i style="left:749.89px;color:#2a9a2a">(115°)</i></div><div class="rb" style="top:333.73px;background:#f5e3e3;border-bottom-color:#d3c6c6"></div><div class="nb" style="top:333.73px;background:#e6d6d6"></div><div class="tr" style="top:333.93px;color:#1763d8"><i style="left:325.90px">KQEH</i><i style="left:399.93px">50</i><i style="left:420.12px">(54.1)</i><i style="left:521.07px">–4.7</i><i style="left:574.91px">–95.6</i><i style="left:622.02px">2Edge</i><i style="left:675.86px">47.0</i><i style="left:716.24px;color:#2a9a2a">130°</i><i style="left:749.89px;color:#2a9a2a">(116°)</i></div><div class="rb" style="top:344.90px;background:#f9e4e4;border-bottom-color:#d6c6c6"></div><div class="nb" style="top:344.90px;background:#e9d6d6"></div><div class="tr" style="top:345.10px;color:#1763d8"><i style="left:325.90px">KSTS</i><i style="left:399.93px">49</i><i style="left:420.12px">(48.1)</i><i style="left:473.96px">TEL</i><i style="left:521.07px">–4.9</i><i style="left:574.91px">–95.8</i><i style="left:622.02px">2Edge</i><i style="left:675.86px">46.3</i><i style="left:716.24px;color:#2a9a2a">130°</i><i style="left:749.89px;color:#2a9a2a">(115°)</i></div><div class="rb" style="top:356.08px;background:#ebe6e6;border-bottom-color:#c9c4c4"></div><div class="nb" style="top:356.08px;background:#dbd6d6"></div><div class="tr" style="top:356.28px;color:#1763d8"><i style="left:325.90px">KCSO–LD</i><i style="left:406.66px">3</i><i style="left:521.07px">–6.3</i><i style="left:574.91px">–97.2</i><i style="left:622.02px">2Edge</i><i style="left:675.86px">98.9</i><i style="left:722.97px;color:#a8a81e">82°</i><i style="left:756.62px;color:#a8a81e">(68°)</i></div><div class="rb" style="top:367.25px;background:#e8e5e5;border-bottom-color:#c7c4c4"></div><div class="nb" style="top:367.25px;background:#d9d6d6"></div><div class="tr" style="top:367.45px;color:#1763d8"><i style="left:325.90px">KPIX–TV</i><i style="left:399.93px">42</i><i style="left:473.96px">CBS</i><i style="left:521.07px">–6.8</i><i style="left:574.91px">–97.6</i><i style="left:622.02px">1Edge</i><i style="left:675.86px">39.6</i><i style="left:722.97px;color:#d75a23">35°</i><i style="left:756.62px;color:#d75a23">(21°)</i></div><div class="wc" style="top:367.25px">C</div><div class="rb" style="top:378.43px;background:#e6e6e6;border-bottom-color:#c6c6c6"></div><div class="nb" style="top:378.43px;background:#d8d8d8"></div><div class="tr" style="top:378.62px;color:#1763d8"><i style="left:325.90px">KTFK–DT</i><i style="left:399.93px">26</i><i style="left:420.12px">(64.1)</i><i style="left:473.96px">Tel</i><i style="left:521.07px">–7.2</i><i style="left:574.91px">–98.0</i><i style="left:622.02px">2Edge</i><i style="left:675.86px">59.6</i><i style="left:722.97px;color:#c8a01e">69°</i><i style="left:756.62px;color:#c8a01e">(54°)</i></div><div class="rb" style="top:389.60px;background:#e6e6e6;border-bottom-color:#c6c6c6"></div><div class="nb" style="top:389.60px;background:#d8d8d8"></div><div class="tr" style="top:389.80px;color:#1763d8"><i style="left:325.90px">KSPX–DT</i><i style="left:399.93px">48</i><i style="left:420.12px">(29.1)</i><i style="left:473.96px">ION</i><i style="left:521.07px">–8.8</i><i style="left:574.91px">–99.7</i><i style="left:622.02px">1Edge</i><i style="left:675.86px">60.8</i><i style="left:722.97px;color:#c8a01e">67°</i><i style="left:756.62px;color:#c8a01e">(53°)</i></div><div class="wc" style="top:389.60px">C</div><div class="wa" style="top:389.60px">a</div><div class="rb" style="top:400.78px;background:#e6e6e6;border-bottom-color:#c6c6c6"></div><div class="nb" style="top:400.78px;background:#d8d8d8"></div><div class="tr" style="top:400.98px;color:#9b2fdc"><i style="left:325.90px">KBKF–LP</i><i style="left:406.66px">6</i><i style="left:514.34px">–15.5</i><i style="left:574.91px">–94.3</i><i style="left:622.02px">2Edge</i><i style="left:675.86px">67.5</i><i style="left:716.24px;color:#1f9a5a">146°</i><i style="left:749.89px;color:#1f9a5a">(132°)</i></div><div class="wc" style="top:400.78px">C</div><div class="rb" style="top:411.95px;background:#e6e6e6;border-bottom-color:#c6c6c6"></div><div class="nb" style="top:411.95px;background:#d8d8d8"></div><div class="tr" style="top:412.15px;color:#1763d8"><i style="left:325.90px">KEMO–TV</i><i style="left:399.93px">32</i><i style="left:420.12px">(50.1)</i><i style="left:514.34px">–15.9</i><i style="left:568.18px">–106.8</i><i style="left:622.02px">2Edge</i><i style="left:675.86px">51.5</i><i style="left:716.24px;color:#d2203c">353°</i><i style="left:749.89px;color:#d2203c">(339°)</i></div><div class="wc" style="top:411.95px">C</div><div class="wa" style="top:411.95px">a</div><div class="rb" style="top:423.12px;background:#e6e6e6;border-bottom-color:#c6c6c6"></div><div class="nb" style="top:423.12px;background:#d8d8d8"></div><div class="tr" style="top:423.32px;color:#1763d8"><i style="left:325.90px">KDAS–LP</i><i style="left:399.93px">48</i><i style="left:420.12px">(48.1)</i><i style="left:514.34px">–16.3</i><i style="left:568.18px">–107.2</i><i style="left:622.02px">1Edge</i><i style="left:682.59px">4.1</i><i style="left:716.24px;color:#6a30c8">265°</i><i style="left:749.89px;color:#6a30c8">(251°)</i></div><div class="wc" style="top:423.12px">C</div><div class="wa" style="top:423.12px">a</div><div class="rb" style="top:434.30px;background:#e6e6e6;border-bottom-color:#c6c6c6"></div><div class="nb" style="top:434.30px;background:#d8d8d8"></div><div class="tr" style="top:434.50px;color:#1763d8"><i style="left:325.90px">KDTV–CD</i><i style="left:399.93px">28</i><i style="left:514.34px">–19.9</i><i style="left:568.18px">–110.7</i><i style="left:622.02px">2Edge</i><i style="left:675.86px">50.5</i><i style="left:716.24px;color:#d2203c">354°</i><i style="left:749.89px;color:#d2203c">(340°)</i></div><div class="wc" style="top:434.30px">C</div><div class="wa" style="top:434.30px">a</div><div class="rb" style="top:445.48px;background:#e6e6e6;border-bottom-color:#c6c6c6"></div><div class="nb" style="top:445.48px;background:#d8d8d8"></div><div class="tr" style="top:445.68px;color:#1763d8"><i style="left:325.90px">KUVS–DT</i><i style="left:399.93px">18</i><i style="left:420.12px">(19.1)</i><i style="left:473.96px">Uni</i><i style="left:514.34px">–21.2</i><i style="left:568.18px">–112.0</i><i style="left:622.02px">2Edge</i><i style="left:675.86px">98.9</i><i style="left:722.97px;color:#a8a81e">82°</i><i style="left:756.62px;color:#a8a81e">(68°)</i></div><div class="wa" style="top:445.48px">a</div><div class="rb" style="top:456.65px;background:#e6e6e6;border-bottom-color:#c6c6c6"></div><div class="nb" style="top:456.65px;background:#d8d8d8"></div><div class="tr" style="top:456.85px;color:#1763d8"><i style="left:325.90px">KAXT–CD</i><i style="left:399.93px">42</i><i style="left:426.85px">(1.1)</i><i style="left:514.34px">–27.2</i><i style="left:568.18px">–118.1</i><i style="left:622.02px">2Edge</i><i style="left:675.86px">46.3</i><i style="left:716.24px;color:#2a9a2a">130°</i><i style="left:749.89px;color:#2a9a2a">(115°)</i></div><div class="wc" style="top:456.65px">C</div><div class="wa" style="top:456.65px">a</div><div class="rb" style="top:467.83px;background:#e6e6e6;border-bottom-color:#c6c6c6"></div><div class="nb" style="top:467.83px;background:#d8d8d8"></div><div class="tr" style="top:468.03px;color:#1763d8"><i style="left:325.90px">KFTL–CD</i><i style="left:399.93px">28</i><i style="left:420.12px">(28.1)</i><i style="left:514.34px">–27.8</i><i style="left:568.18px">–118.7</i><i style="left:622.02px">2Edge</i><i style="left:675.86px">17.3</i><i style="left:716.24px;color:#1f8a80">164°</i><i style="left:749.89px;color:#1f8a80">(150°)</i></div><div class="wc" style="top:467.83px">C</div><div class="wa" style="top:467.83px">a</div><div class="rb" style="top:479.00px;background:#e6e6e6;border-bottom-color:#c6c6c6"></div><div class="nb" style="top:479.00px;background:#d8d8d8"></div><div class="tr" style="top:479.20px;color:#1763d8"><i style="left:325.90px">KTVU</i><i style="left:399.93px">48</i><i style="left:473.96px">Fox</i><i style="left:514.34px">–29.4</i><i style="left:568.18px">–120.3</i><i style="left:622.02px">2Edge</i><i style="left:675.86px">47.0</i><i style="left:716.24px;color:#2a9a2a">130°</i><i style="left:749.89px;color:#2a9a2a">(116°)</i></div><div class="wc" style="top:479.00px">C</div><div class="wa" style="top:479.00px">a</div><div class="rb" style="top:490.18px;background:#e6e6e6;border-bottom-color:#c6c6c6"></div><div class="nb" style="top:490.18px;background:#d8d8d8"></div><div class="tr" style="top:490.38px;color:#1763d8"><i style="left:325.90px">K04QR–D</i><i style="left:406.66px">4</i><i style="left:514.34px">–31.4</i><i style="left:568.18px">–122.2</i><i style="left:622.02px">2Edge</i><i style="left:675.86px">91.9</i><i style="left:722.97px;color:#d29620">57°</i><i style="left:756.62px;color:#d29620">(43°)</i></div><div class="wc" style="top:490.18px">C</div><div class="wa" style="top:490.18px">a</div><div class="rb" style="top:501.35px;background:#e6e6e6;border-bottom-color:#c6c6c6"></div><div class="nb" style="top:501.35px;background:#d8d8d8"></div><div class="tr" style="top:501.55px;color:#1763d8"><i style="left:325.90px">KMMW–LD</i><i style="left:399.93px">28</i><i style="left:420.12px">(47.1)</i><i style="left:514.34px">–33.7</i><i style="left:568.18px">–124.5</i><i style="left:622.02px">2Edge</i><i style="left:675.86px">98.9</i><i style="left:722.97px;color:#a8a81e">82°</i><i style="left:756.62px;color:#a8a81e">(68°)</i></div><div class="wc" style="top:501.35px">C</div><div class="wa" style="top:501.35px">a</div><div class="rb" style="top:512.53px;background:#e6e6e6;border-bottom-color:#c6c6c6"></div><div class="nb" style="top:512.53px;background:#d8d8d8"></div><div class="tr" style="top:512.73px;color:#1763d8"><i style="left:325.90px">KGO–TV</i><i style="left:399.93px">35</i><i style="left:473.96px">ABC</i><i style="left:514.34px">–34.4</i><i style="left:568.18px">–125.2</i><i style="left:622.02px">2Edge</i><i style="left:675.86px">46.3</i><i style="left:716.24px;color:#2a9a2a">130°</i><i style="left:749.89px;color:#2a9a2a">(115°)</i></div><div class="wc" style="top:512.53px">C</div><div class="wa" style="top:512.53px">a</div><div class="rb" style="top:523.70px;background:#e6e6e6;border-bottom-color:#c6c6c6"></div><div class="nb" style="top:523.70px;background:#d8d8d8"></div><div class="tr" style="top:523.90px;color:#1763d8"><i style="left:325.90px">KSBW</i><i style="left:406.66px">8</i><i style="left:426.85px">(8.1)</i><i style="left:473.96px">NBC</i><i style="left:514.34px">–35.8</i><i style="left:568.18px">–126.7</i><i style="left:622.02px">Tropo</i><i style="left:675.86px">98.4</i><i style="left:716.24px;color:#1f9a5a">145°</i><i style="left:749.89px;color:#1f9a5a">(131°)</i></div><div class="wc" style="top:523.70px">C</div><div class="wa" style="top:523.70px">a</div><div class="rb" style="top:534.88px;background:#e6e6e6;border-bottom-color:#c6c6c6"></div><div class="nb" style="top:534.88px;background:#d8d8d8"></div><div class="tr" style="top:535.08px;color:#9b2fdc"><i style="left:325.90px">KMMC–LP</i><i style="left:399.93px">40</i><i style="left:514.34px">–36.2</i><i style="left:568.18px">–115.0</i><i style="left:622.02px">2Edge</i><i style="left:675.86px">17.3</i><i style="left:716.24px;color:#1f8a80">164°</i><i style="left:749.89px;color:#1f8a80">(150°)</i></div><div class="wc" style="top:534.88px">C</div><div class="wa" style="top:534.88px">a</div><div class="rb" style="top:546.05px;background:#e6e6e6;border-bottom-color:#c6c6c6"></div><div class="nb" style="top:546.05px;background:#d8d8d8"></div><div class="tr" style="top:546.25px;color:#1763d8"><i style="left:325.90px">K45HC</i><i style="left:399.93px">45</i><i style="left:420.12px">(45.1)</i><i style="left:514.34px">–37.1</i><i style="left:568.18px">–128.0</i><i style="left:622.02px">1Edge</i><i style="left:675.86px">60.8</i><i style="left:722.97px;color:#c8a01e">67°</i><i style="left:756.62px;color:#c8a01e">(53°)</i></div><div class="wc" style="top:546.05px">C</div><div class="wa" style="top:546.05px">a</div><div class="rb" style="top:557.23px;background:#e6e6e6;border-bottom-color:#c6c6c6"></div><div class="nb" style="top:557.23px;background:#d8d8d8"></div><div class="tr" style="top:557.43px;color:#9b2fdc"><i style="left:325.90px">K25HI</i><i style="left:399.93px">25</i><i style="left:514.34px">–38.0</i><i style="left:568.18px">–116.9</i><i style="left:622.02px">2Edge</i><i style="left:675.86px">40.7</i><i style="left:716.24px;color:#d2203c">349°</i><i style="left:749.89px;color:#d2203c">(335°)</i></div><div class="wc" style="top:557.23px">C</div><div class="wa" style="top:557.23px">a</div><div class="rb" style="top:568.40px;background:#e6e6e6;border-bottom:0;height:11.50px"></div><div class="nb" style="top:568.40px;background:#d8d8d8"></div><div class="tr" style="top:568.60px;color:#9b2fdc"><i style="left:325.90px">KEFM–LP</i><i style="left:406.66px">6</i><i style="left:514.34px">–39.2</i><i style="left:568.18px">–118.0</i><i style="left:622.02px">2Edge</i><i style="left:675.86px">95.9</i><i style="left:722.97px;color:#d24628">23°</i><i style="left:763.35px;color:#d24628">(9°)</i></div><div class="wc" style="top:568.40px">C</div><div class="wc" style="left:346.5px;top:584.5px;height:11px;line-height:11px;width:7.5px">C</div><div class="t" style="left:360px;top:583px;font-size:11.5px;letter-spacing:0.68px;color:#111">= Co-channel warning</div><div class="wa" style="left:557px;top:584.5px;height:11px;line-height:11px;width:7.5px">a</div><div class="t" style="left:572px;top:583px;font-size:11.5px;letter-spacing:0.6px;color:#111">= Adjacent channel warning</div></body></html>
